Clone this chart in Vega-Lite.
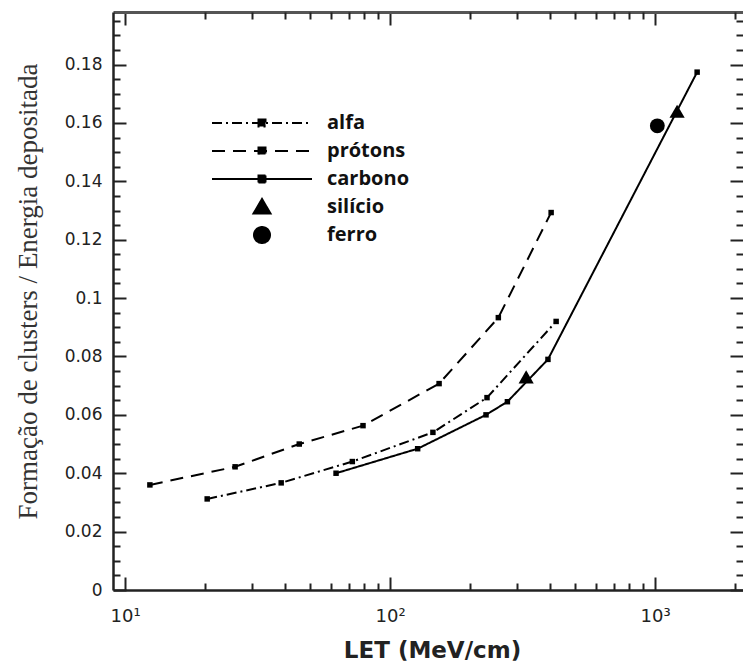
{
  "$schema": "https://vega.github.io/schema/vega-lite/v6.json",
  "autosize": {"type": "none"},
  "padding": {"left": 113, "top": 12, "right": 0, "bottom": 76},
  "width": 630,
  "height": 578,
  "background": "white",
  "datasets": {
    "linhas": [
      {"serie": "alfa", "let": 20.4, "valor": 0.0312},
      {"serie": "alfa", "let": 38.8, "valor": 0.0367},
      {"serie": "alfa", "let": 72, "valor": 0.044},
      {"serie": "alfa", "let": 145, "valor": 0.054},
      {"serie": "alfa", "let": 232, "valor": 0.0659},
      {"serie": "alfa", "let": 423, "valor": 0.092},
      {"serie": "prótons", "let": 12.4, "valor": 0.036},
      {"serie": "prótons", "let": 26, "valor": 0.0422},
      {"serie": "prótons", "let": 45.4, "valor": 0.05},
      {"serie": "prótons", "let": 79, "valor": 0.0563},
      {"serie": "prótons", "let": 153, "valor": 0.0707},
      {"serie": "prótons", "let": 256, "valor": 0.0933},
      {"serie": "prótons", "let": 405, "valor": 0.1293},
      {"serie": "carbono", "let": 62.5, "valor": 0.04},
      {"serie": "carbono", "let": 127, "valor": 0.0484},
      {"serie": "carbono", "let": 230, "valor": 0.06},
      {"serie": "carbono", "let": 277, "valor": 0.0645},
      {"serie": "carbono", "let": 394, "valor": 0.079},
      {"serie": "carbono", "let": 1440, "valor": 0.1774}
    ],
    "silicio": [
      {"serie": "silício", "let": 326, "valor": 0.073},
      {"serie": "silício", "let": 1210, "valor": 0.164}
    ],
    "ferro": [
      {"serie": "ferro", "let": 1019, "valor": 0.159}
    ]
  },
  "config": {
    "view": {"stroke": null},
    "axis": {
      "grid": false,
      "domainColor": "#222",
      "tickColor": "#222",
      "domainWidth": 2.5,
      "tickWidth": 2,
      "labelColor": "#222",
      "labelFont": "DejaVu Sans",
      "titleColor": "#222"
    }
  },
  "resolve": {"axis": {"x": "independent", "y": "independent"}},
  "layer": [
    {
      "data": {"name": "linhas"},
      "mark": {"type": "line", "color": "black", "strokeWidth": 2},
      "encoding": {
        "x": {
          "field": "let", "type": "quantitative",
          "scale": {"type": "log", "domain": [9, 2145], "nice": false, "zero": false},
          "axis": {
            "orient": "bottom", "values": [10, 100, 1000], "tickSize": -13,
            "labelPadding": 30, "labelFlush": false, "labelBaseline": "top",
            "labelExpr": "datum.value == 10 ? '10¹' : datum.value == 100 ? '10²' : '10³'",
            "labelFontSize": 18,
            "title": "LET (MeV/cm)", "titleFont": "DejaVu Sans", "titleFontWeight": "bold",
            "titleFontSize": 23, "titleX": 319, "titleY": 67, "titleBaseline": "alphabetic", "titleAlign": "center"
          }
        },
        "y": {
          "field": "valor", "type": "quantitative",
          "scale": {"domain": [0, 0.198], "nice": false, "zero": true},
          "axis": {
            "orient": "left", "values": [0, 0.02, 0.04, 0.06, 0.08, 0.1, 0.12, 0.14, 0.16, 0.18],
            "tickSize": -13, "labelPadding": 24, "labelFontSize": 17,
            "labelExpr": "format(datum.value, '~g')",
            "title": "Formação de clusters / Energia depositada",
            "titleFont": "Liberation Serif", "titleFontSize": 27, "titleFontWeight": "normal",
            "titleColor": "#333", "titleX": -77, "titleY": 279, "titleAngle": 270,
            "titleBaseline": "alphabetic", "titleAlign": "center"
          }
        },
        "strokeDash": {
          "field": "serie", "type": "nominal",
          "scale": {
            "domain": ["alfa", "prótons", "carbono", "silício", "ferro"],
            "range": [[10, 4, 2, 4], [13, 8], [1, 0], [1, 0], [1, 0]]
          },
          "legend": {
            "orient": "none", "legendX": 98, "legendY": 97, "title": null,
            "symbolSize": 10000, "symbolStrokeWidth": 2, "symbolStrokeColor": "black",
            "symbolFillColor": "black", "symbolOpacity": 1,
            "labelFont": "Open Sans", "labelFontWeight": "bold", "labelFontSize": 20,
            "labelColor": "#111", "labelOffset": 14, "clipHeight": 28, "rowPadding": 0, "padding": 0,
            "encode": {
              "symbols": {
                "update": {
                  "shape": {"signal": "datum.value === 'silício' ? 'M0,-0.16L0.17,0.13L-0.17,0.13Z' : datum.value === 'ferro' ? 'M-0.16,0A0.16,0.16,0,1,0,0.16,0A0.16,0.16,0,1,0,-0.16,0Z' : 'M-1,0L1,0M-0.07,-0.07L0.07,-0.07L0.07,0.07L-0.07,0.07Z'"},
                  "fill": {"value": "black"},
                  "fillOpacity": {"value": 1},
                  "stroke": {"value": "black"}
                }
              }
            }
          }
        }
      }
    },
    {
      "data": {"name": "linhas"},
      "mark": {"type": "point", "shape": "square", "filled": true, "color": "black", "size": 30, "opacity": 1},
      "encoding": {
        "x": {
          "field": "let", "type": "quantitative",
          "scale": {"type": "log", "domain": [9, 2145], "nice": false, "zero": false},
          "axis": {
            "orient": "bottom", "values": [20, 30, 40, 50, 60, 70, 80, 90, 200, 300, 400, 500, 600, 700, 800, 900, 2000],
            "tickSize": -7, "labels": false, "domain": false, "title": null
          }
        },
        "y": {
          "field": "valor", "type": "quantitative",
          "scale": {"domain": [0, 0.198], "nice": false, "zero": true},
          "axis": {
            "orient": "left",
            "values": [0.005, 0.01, 0.015, 0.025, 0.03, 0.035, 0.045, 0.05, 0.055, 0.065, 0.07, 0.075, 0.085, 0.09, 0.095, 0.105, 0.11, 0.115, 0.125, 0.13, 0.135, 0.145, 0.15, 0.155, 0.165, 0.17, 0.175, 0.185, 0.19, 0.195],
            "tickSize": -7, "labels": false, "domain": false, "title": null
          }
        }
      }
    },
    {
      "data": {"name": "silicio"},
      "mark": {"type": "point", "shape": "triangle-up", "filled": true, "color": "black", "size": 230, "opacity": 1},
      "encoding": {
        "x": {
          "field": "let", "type": "quantitative",
          "scale": {"type": "log", "domain": [9, 2145], "nice": false, "zero": false},
          "axis": {
            "orient": "top", "values": [10, 100, 1000],
            "tickSize": -13, "labels": false, "domain": true, "domainColor": "#555", "domainWidth": 3, "title": null
          }
        },
        "y": {
          "field": "valor", "type": "quantitative",
          "scale": {"domain": [0, 0.198], "nice": false, "zero": true},
          "axis": {
            "orient": "right", "values": [0, 0.02, 0.04, 0.06, 0.08, 0.1, 0.12, 0.14, 0.16, 0.18],
            "tickSize": -13, "labels": false, "domain": false, "title": null
          }
        }
      }
    },
    {
      "data": {"name": "ferro"},
      "mark": {"type": "point", "shape": "circle", "filled": true, "color": "black", "size": 220, "opacity": 1},
      "encoding": {
        "x": {
          "field": "let", "type": "quantitative",
          "scale": {"type": "log", "domain": [9, 2145], "nice": false, "zero": false},
          "axis": {
            "orient": "top", "values": [20, 30, 40, 50, 60, 70, 80, 90, 200, 300, 400, 500, 600, 700, 800, 900, 2000],
            "tickSize": -7, "labels": false, "domain": false, "title": null
          }
        },
        "y": {
          "field": "valor", "type": "quantitative",
          "scale": {"domain": [0, 0.198], "nice": false, "zero": true},
          "axis": {
            "orient": "right",
            "values": [0.005, 0.01, 0.015, 0.025, 0.03, 0.035, 0.045, 0.05, 0.055, 0.065, 0.07, 0.075, 0.085, 0.09, 0.095, 0.105, 0.11, 0.115, 0.125, 0.13, 0.135, 0.145, 0.15, 0.155, 0.165, 0.17, 0.175, 0.185, 0.19, 0.195],
            "tickSize": -7, "labels": false, "domain": false, "title": null
          }
        }
      }
    }
  ]
}
